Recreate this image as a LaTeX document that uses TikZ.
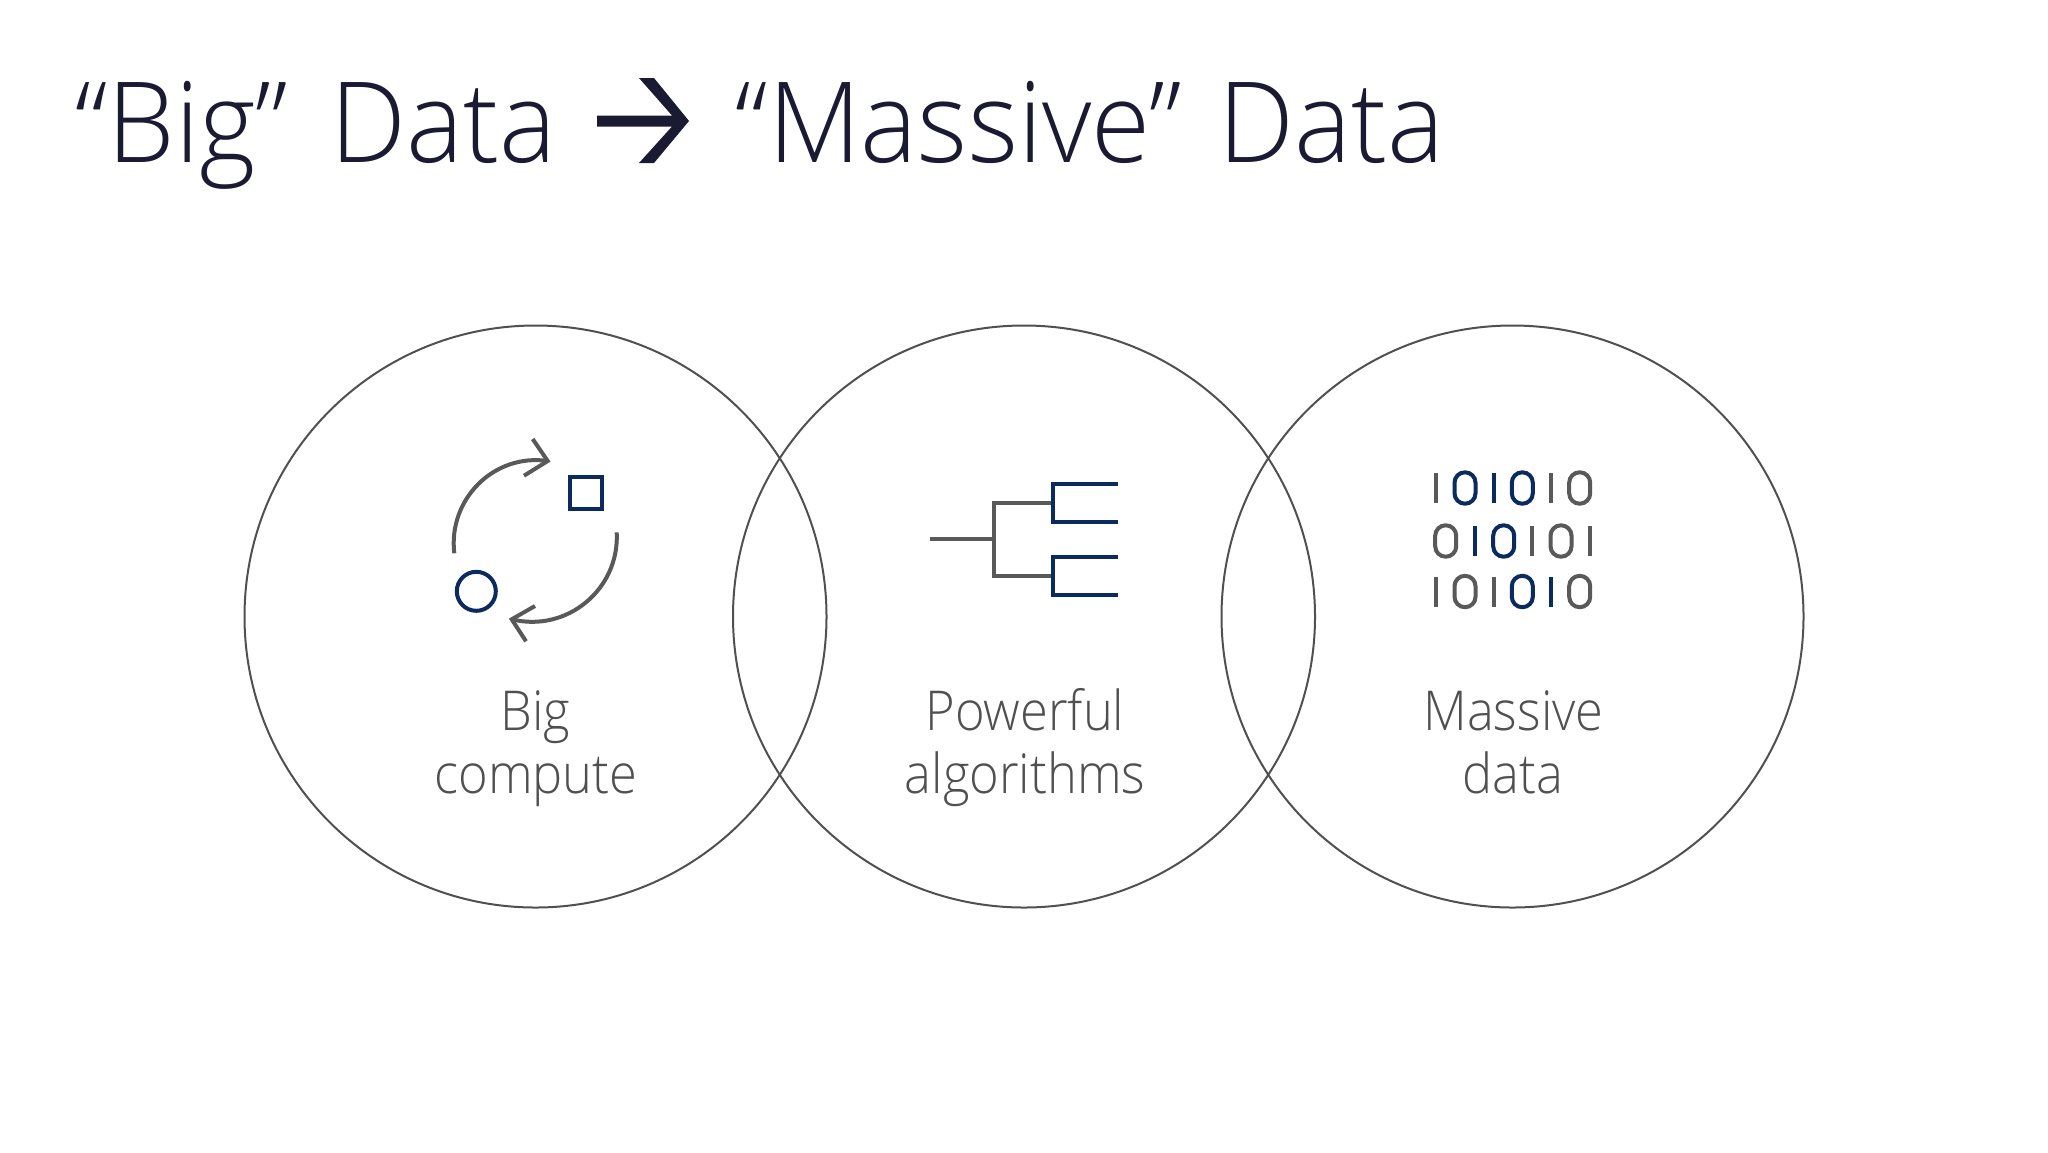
\documentclass[tikz,border=0pt]{standalone}
\usepackage{fontspec}
\setmainfont{Open Sans Light}
\newfontfamily\titlefont[FakeStretch=0.96,WordSpace=1.3]{Open Sans Light}
\newfontfamily\labelfont[FakeStretch=0.92]{Open Sans Light}
\definecolor{navy}{HTML}{0B2A5E}
\definecolor{iconGray}{HTML}{595959}
\definecolor{ringGray}{HTML}{505050}
\definecolor{titleInk}{HTML}{1B1A33}
\definecolor{labelGray}{HTML}{505050}
\tikzset{
  ring/.style={draw=ringGray,line width=1pt},
  grayline/.style={draw=iconGray,line width=2pt},
  navyline/.style={draw=navy,line width=2pt},
  titletext/.style={text=titleInk,font=\titlefont\fontsize{56}{60}\selectfont,anchor=base west,inner sep=0},
  labeltext/.style={text=labelGray,font=\labelfont\fontsize{27.5}{32}\selectfont,anchor=base,inner sep=0},
}
\newcommand{\onebar}[3]{\draw[#3] (#1,#2-15) -- (#1,#2+15);}
\newcommand{\zerobar}[3]{\draw[#3,rounded corners=5.2pt] (#1-10.5,#2-15.7) rectangle (#1+10.5,#2+15.7);}
\begin{document}
\begin{tikzpicture}[x=0.5pt,y=-0.5pt,line cap=butt]
\useasboundingbox[fill=white] (0,0) rectangle (2048,1152);
% title
\node[titletext] (titleA) at (75,162) {“Big”\kern3.2pt\ Data};
\fill[titleInk] (597,115.5) -- (672,115.5) -- (639,78) -- (654,78) -- (689,121) -- (654,163) -- (639,163) -- (672,126.5) -- (597,126.5) -- cycle;
\node[titletext] (titleB) at (735.5,162) {“Massive” Data};
% rings
\draw[ring] (535.5,616.5) circle[radius=291];
\draw[ring] (1024,616.5) circle[radius=291];
\draw[ring] (1512.5,616.5) circle[radius=291];
% labels
\node[labeltext] (l1) at (535.5,730) {Big};
\node[labeltext] (l2) at (536,793) {compute};
\node[labeltext] (l3) at (1025,730) {Powerful};
\node[labeltext] (l4) at (1025,793) {algorithms};
\node[labeltext] (l5) at (1513.5,730) {Massive};
\node[labeltext] (l6) at (1513,793) {data};
% cycle icon
\draw[grayline] (454.3,553.3) .. controls (447.8,499.4) and (494,453) .. (547.7,461);
\draw[grayline,miter limit=10] (532.7,439) -- (547.7,461) -- (524,475.7);
\draw[grayline] (616.7,532.3) .. controls (619.8,589.1) and (566.9,633) .. (511.7,619.3);
\draw[grayline,miter limit=10] (535,606) -- (511.7,619.3) -- (526,641.3);
\draw[navyline] (570,477) rectangle (602,509);
\draw[navyline] (476.3,591.3) circle[radius=19.5];
% tree icon
\draw[grayline] (930,539.3) -- (994,539.3);
\draw[grayline] (1052.5,503) -- (994,503) -- (994,575.7) -- (1052.5,575.7);
\draw[navyline] (1117.7,484) -- (1052.5,484) -- (1052.5,522.3) -- (1117.7,522.3);
\draw[navyline] (1117.7,556.7) -- (1052.5,556.7) -- (1052.5,594.7) -- (1117.7,594.7);
% binary icon
\onebar{1435.7}{488}{grayline}
\zerobar{1465}{488}{navyline}
\onebar{1494}{488}{navyline}
\zerobar{1522.3}{488}{navyline}
\onebar{1550.7}{488}{grayline}
\zerobar{1579.7}{488}{grayline}
\zerobar{1445.7}{541}{grayline}
\onebar{1475}{541}{navyline}
\zerobar{1503.7}{541}{navyline}
\onebar{1532}{541}{grayline}
\zerobar{1561}{541}{grayline}
\onebar{1589.7}{541}{grayline}
\onebar{1435.7}{591.5}{grayline}
\zerobar{1465}{591.5}{grayline}
\onebar{1494}{591.5}{grayline}
\zerobar{1522.3}{591.5}{navyline}
\onebar{1550.7}{591.5}{navyline}
\zerobar{1579.7}{591.5}{grayline}
\end{tikzpicture}
\end{document}
